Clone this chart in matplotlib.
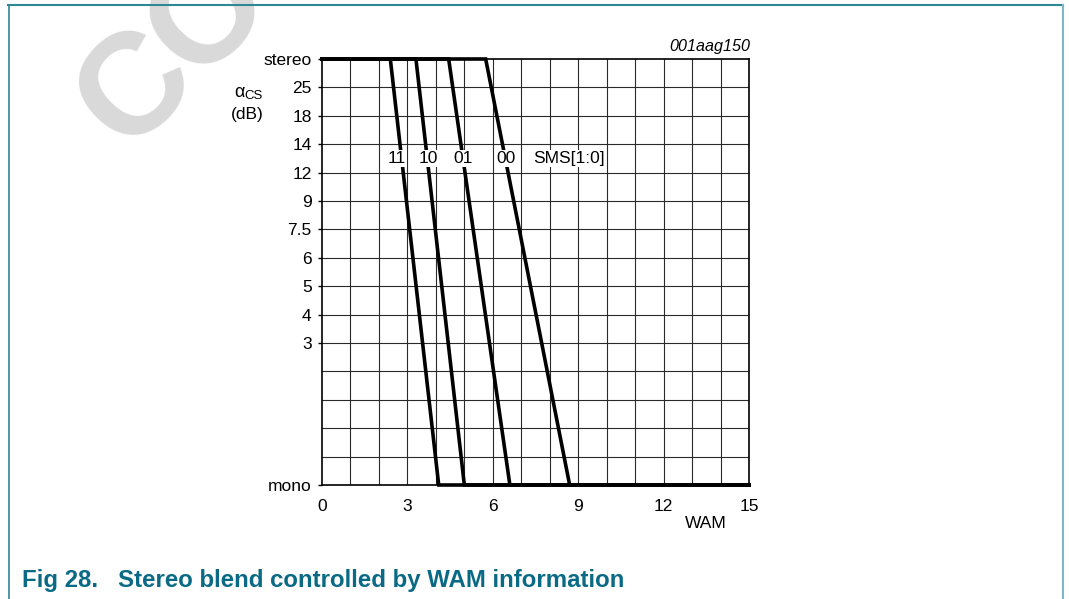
import matplotlib
matplotlib.use("Agg")
import matplotlib.pyplot as plt
from matplotlib.lines import Line2D

plt.rcParams['font.family'] = ['Liberation Sans', 'DejaVu Sans']

# ---- data ----
x_ticks = [0, 3, 6, 9, 12, 15]
y_tick_pos = [15, 14, 13, 12, 11, 10, 9, 8, 7, 6, 5, 0]
y_tick_labels = ['stereo', '25', '18', '14', '12', '9', '7.5', '6', '5', '4', '3', 'mono']
sms_codes = ['11', '10', '01', '00']
wam_start = [2.4, 3.3, 4.45, 5.75]   # WAM where blend leaves stereo
wam_end = [4.1, 5.0, 6.6, 8.7]       # WAM where blend reaches mono
label_x = [2.63, 3.72, 4.95, 6.46]
label_y = 11.5

FS = 12.5

fig = plt.figure(figsize=(10.69, 5.99), dpi=100)

# watermark (behind everything)
for ch, (px, py) in zip('CO', [(137, 90), (210, 16)]):
    fig.text(px/1069, 1-py/599, ch, ha='center', va='center', fontsize=104,
             weight='bold', color='#d9d9d9', rotation=45,
             rotation_mode='anchor', zorder=-10)

ax = fig.add_axes([322/1069, 1-485/599, 427/1069, 426/599])
ax.patch.set_alpha(0)
ax.set_xlim(0, 15)
ax.set_ylim(0, 15)

for v in range(1, 15):
    ax.axvline(v, color='#2a2a2a', lw=0.8, zorder=1)
    ax.axhline(v, color='#2a2a2a', lw=0.8, zorder=1)

for code, xs, xe in zip(sms_codes, wam_start, wam_end):
    ax.plot([0, xs, xe, 15], [15, 15, 0, 0], color='black', lw=2.6,
            solid_joinstyle='miter', clip_on=False, zorder=3)

for code, lx in zip(sms_codes, label_x):
    ax.text(lx, label_y, code, ha='center', va='center', fontsize=FS,
            bbox=dict(facecolor='white', edgecolor='none', pad=1.0), zorder=4)
ax.text(7.41, label_y, 'SMS[1:0]', ha='left', va='center', fontsize=FS,
        bbox=dict(facecolor='white', edgecolor='none', pad=1.0), zorder=4)

ax.set_xticks(x_ticks)
ax.set_xticklabels([str(v) for v in x_ticks], fontsize=FS)
ax.set_yticks(y_tick_pos)
ax.set_yticklabels(y_tick_labels, fontsize=FS)
ax.tick_params(axis='x', length=0, pad=10)
ax.tick_params(axis='y', length=3, width=1, pad=4.5, direction='out')
for s in ax.spines.values():
    s.set_linewidth(1.2)
    s.set_color('black')
    s.set_zorder(5)

# axis labels
fig.text(706/1069, 1-524/599, 'WAM', ha='center', va='center', fontsize=FS)
fig.text(239/1069, 1-92/599, 'α', ha='center', va='center', fontsize=13)
fig.text(254/1069, 1-96/599, 'CS', ha='center', va='center', fontsize=9.5)
fig.text(247/1069, 1-114/599, '(dB)', ha='center', va='center', fontsize=FS)
fig.text(750/1069, 1-46/599, '001aag150', ha='right', va='center',
         fontsize=11.6, style='italic')

# title
fig.text(22/1069, 1-580/599, 'Fig 28.   Stereo blend controlled by WAM information',
         ha='left', va='center', fontsize=17.3, weight='bold', color='#0a6a85')

# frame
fig.add_artist(Line2D([8/1069, 1063/1069], [1-5/599, 1-5/599],
                      transform=fig.transFigure, color='#2e8795', lw=1.5))
fig.add_artist(Line2D([9/1069, 9/1069], [1-5/599, 0],
                      transform=fig.transFigure, color='#2e8795', lw=1.2))
fig.add_artist(Line2D([1063/1069, 1063/1069], [1-5/599, 0],
                      transform=fig.transFigure, color='#7ab8c4', lw=1.5))

fig.savefig('out.png', dpi=100)
